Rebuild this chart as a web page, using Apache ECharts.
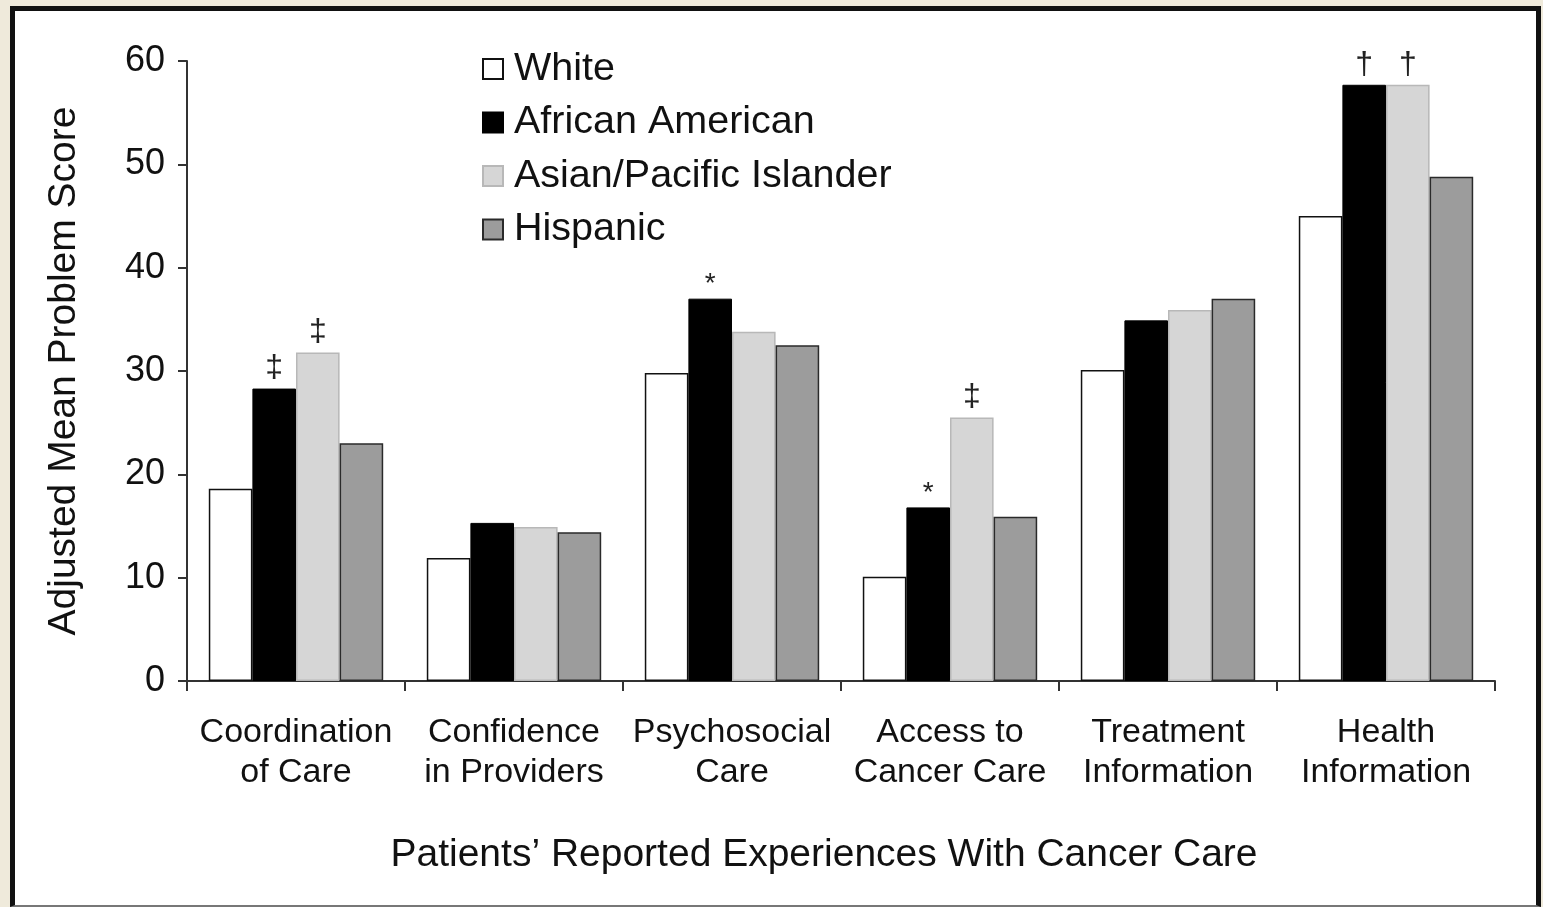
<!DOCTYPE html>
<html>
<head>
<meta charset="utf-8">
<title>Adjusted Mean Problem Score by Race/Ethnicity</title>
<script src="https://cdn.jsdelivr.net/npm/echarts@6/dist/echarts.min.js"></script>
<style>
  html, body { margin: 0; padding: 0; background: #efeadb; width: 1543px; height: 907px; overflow: hidden; }
  #frame { position: absolute; left: 10px; top: 6px; width: 1521px; height: 894px;
           border: 5px solid #111; border-bottom: 2px solid #777; background: #fff; }
  #chart { position: absolute; left: 0; top: 0; width: 1543px; height: 907px; }
</style>
</head>
<body>
<div id="frame"></div>
<div id="chart"></div>
<script>
// Domains of patients' reported experiences
const categories = [
  'Coordination\nof Care',
  'Confidence\nin Providers',
  'Psychosocial\nCare',
  'Access to\nCancer Care',
  'Treatment\nInformation',
  'Health\nInformation'
];

// Adjusted mean problem scores per group
const white           = [18.6, 11.9, 29.8, 10.1, 30.1, 45.0];
const africanAmerican = [28.3, 15.3, 37.0, 16.8, 34.9, 57.7];
const asianPacific    = [31.8, 14.9, 33.8, 25.5, 35.9, 57.7];
const hispanic        = [23.0, 14.4, 32.5, 15.9, 37.0, 48.8];

// Significance markers shown above bars
const whiteMarks    = ['', '', '', '', '', ''];
const africanMarks  = ['\u2021', '', '*', '*', '', '\u2020'];
const asianMarks    = ['\u2021', '', '', '\u2021', '', '\u2020'];
const hispanicMarks = ['', '', '', '', '', ''];

const seriesNames = ['White', 'African American', 'Asian/Pacific Islander', 'Hispanic'];

const FONT = '"Liberation Sans", Arial, Helvetica, sans-serif';

function withMarks(values, marks) {
  return values.map((v, i) => {
    if (!marks[i]) return v;
    const small = marks[i] === '*';
    return {
      value: v,
      label: {
        show: true,
        position: 'top',
        formatter: marks[i],
        distance: small ? 0 : 4,
        fontSize: small ? 28 : 32,
        color: '#222',
        fontFamily: FONT
      }
    };
  });
}

const styles = [
  { color: '#ffffff', borderColor: '#111', borderWidth: 1.5 },
  { color: '#000000', borderColor: '#000', borderWidth: 1 },
  { color: '#d6d6d6', borderColor: '#b8b8b8', borderWidth: 1.5 },
  { color: '#9c9c9c', borderColor: '#2a2a2a', borderWidth: 1.5 }
];

const valueSets = [
  withMarks(white, whiteMarks),
  withMarks(africanAmerican, africanMarks),
  withMarks(asianPacific, asianMarks),
  withMarks(hispanic, hispanicMarks)
];

const chart = echarts.init(document.getElementById('chart'), null, { renderer: 'canvas' });

chart.setOption({
  backgroundColor: 'transparent',
  animation: false,
  textStyle: { fontFamily: FONT, color: '#111' },
  grid: { left: 187, right: 48, top: 61, bottom: 226, containLabel: false },
  legend: {
    orient: 'vertical',
    left: 477,
    top: 44,
    itemWidth: 20,
    itemHeight: 20,
    itemGap: 13.5,
    icon: 'rect',
    data: seriesNames,
    textStyle: { fontSize: 39.5, lineHeight: 38, color: '#111', fontFamily: FONT, padding: [0, 0, 0, 6] }
  },
  xAxis: {
    type: 'category',
    data: categories,
    boundaryGap: true,
    name: 'Patients\u2019 Reported Experiences With Cancer Care',
    nameLocation: 'middle',
    nameGap: 154,
    nameTextStyle: { fontSize: 39, lineHeight: 40, color: '#111', fontFamily: FONT, padding: [0, 34, 0, 0] },
    axisLine: { lineStyle: { color: '#333', width: 2 } },
    axisTick: { show: true, length: 10, alignWithLabel: false, lineStyle: { color: '#333', width: 2 } },
    axisLabel: { fontSize: 34, lineHeight: 40, margin: 32, color: '#111', fontFamily: FONT, interval: 0 }
  },
  yAxis: {
    type: 'value',
    min: 0,
    max: 60,
    interval: 10,
    name: 'Adjusted Mean Problem Score',
    nameLocation: 'middle',
    nameGap: 103,
    nameRotate: 90,
    nameTextStyle: { fontSize: 39, color: '#111', fontFamily: FONT },
    axisLine: { show: true, lineStyle: { color: '#333', width: 2 } },
    axisTick: { show: true, length: 9, lineStyle: { color: '#333', width: 2 } },
    axisLabel: { fontSize: 36, margin: 22, color: '#111', fontFamily: FONT },
    splitLine: { show: false }
  },
  series: seriesNames.map((name, i) => ({
    name: name,
    type: 'bar',
    data: valueSets[i],
    barGap: '0%',
    barCategoryGap: '20%',
    itemStyle: styles[i]
  }))
});
</script>
</body>
</html>
